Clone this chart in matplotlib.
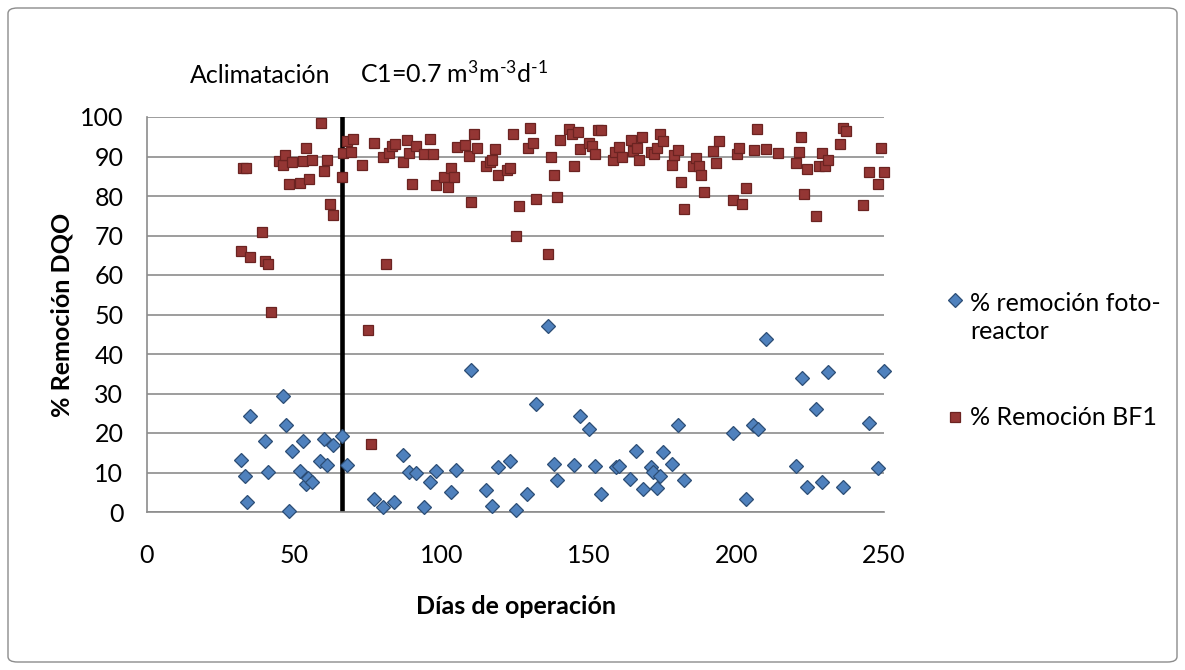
import matplotlib
matplotlib.use("Agg")
import matplotlib.pyplot as plt
from matplotlib.lines import Line2D
from matplotlib.patches import FancyBboxPatch

plt.rcParams['font.family'] = ['Lato', 'DejaVu Sans']
plt.rcParams['mathtext.fontset'] = 'custom'
plt.rcParams['mathtext.rm'] = 'Lato'
plt.rcParams['mathtext.it'] = 'Lato:italic'
plt.rcParams['mathtext.bf'] = 'Lato:bold'

# % remoción foto-reactor
dias_foto = [32.0, 33.1, 33.9, 35.0, 40.0, 41.0, 46.0, 47.0, 48.1, 49.1, 52.0, 52.9, 53.8,
             54.7, 56.1, 58.8, 59.9, 61.2, 63.0, 66.0, 67.8, 76.9, 79.9, 83.9, 87.0, 88.9,
             91.1, 94.1, 96.0, 97.9, 103.0, 104.9, 110.0, 114.9, 117.0, 119.0, 123.0, 125.1,
             129.0, 132.0, 136.0, 138.1, 139.0, 145.0, 147.0, 150.0, 152.1, 154.0, 159.1,
             160.2, 163.8, 166.0, 168.1, 170.9, 171.8, 173.0, 174.1, 175.0, 178.1, 180.0,
             182.1, 198.9, 203.1, 205.6, 207.1, 210.1, 220.0, 222.1, 224.0, 226.9, 229.0,
             231.0, 236.0, 245.0, 248.0, 250.0]
rem_foto = [13.2, 9.2, 2.5, 24.4, 18.1, 10.2, 29.4, 21.9, 0.3, 15.4, 10.4, 17.9, 7.1,
            8.5, 7.5, 12.9, 18.5, 11.9, 16.9, 19.2, 11.9, 3.4, 1.2, 2.5, 14.4, 10.1,
            10.0, 1.2, 7.6, 10.5, 5.0, 10.7, 35.9, 5.6, 1.5, 11.5, 12.9, 0.5,
            4.6, 27.3, 47.1, 12.1, 8.0, 11.8, 24.2, 20.9, 11.6, 4.5, 11.5,
            11.6, 8.3, 15.4, 5.8, 11.5, 10.1, 6.2, 9.1, 15.3, 12.2, 22.0,
            8.2, 20.1, 3.3, 22.0, 20.9, 43.9, 11.7, 34.0, 6.3, 26.0, 7.6,
            35.5, 6.3, 22.6, 11.1, 35.6]

# % Remoción BF1
dias_bf1 = [32.0, 32.7, 33.6, 35.0, 39.0, 40.0, 41.0, 42.0, 44.9, 46.0, 46.8, 48.1, 49.1,
            51.9, 52.8, 53.9, 55.1, 56.1, 59.0, 60.0, 61.1, 62.1, 63.1, 66.0, 66.6, 67.7,
            69.1, 70.0, 73.0, 75.1, 76.0, 77.1, 80.2, 81.1, 82.2, 83.0, 84.1, 87.0, 88.1,
            89.0, 90.0, 91.1, 94.0, 96.0, 97.1, 98.0, 100.9, 102.0, 103.1, 104.0, 105.1,
            108.0, 109.1, 110.0, 111.0, 112.0, 115.0, 116.3, 117.1, 118.0, 119.1, 122.0,
            123.1, 124.0, 125.1, 126.1, 129.1, 130.0, 131.0, 132.0, 136.0, 137.0, 138.1,
            139.1, 140.1, 143.0, 144.1, 145.0, 146.1, 147.0, 150.0, 151.1, 152.1, 153.1,
            154.0, 158.1, 158.9, 160.0, 161.0, 164.1, 165.0, 166.1, 167.0, 168.0, 171.0,
            172.1, 172.9, 174.0, 175.0, 178.1, 178.9, 180.0, 181.0, 182.1, 185.1, 186.1,
            187.1, 188.0, 189.0, 192.1, 193.1, 194.0, 198.9, 200.0, 200.9, 201.9, 203.1,
            206.0, 207.0, 210.0, 214.0, 220.2, 221.0, 222.0, 223.0, 224.0, 226.9, 227.8,
            229.0, 230.1, 231.0, 235.1, 236.0, 237.0, 243.0, 245.0, 248.1, 249.1, 250.0]
rem_bf1 = [66.2, 87.1, 87.1, 64.5, 71.0, 63.6, 62.9, 50.7, 88.9, 87.8, 90.5, 83.0, 88.6,
           83.2, 88.8, 92.1, 84.2, 89.1, 98.4, 86.3, 89.1, 78.0, 75.3, 84.7, 90.8, 94.0,
           91.1, 94.5, 87.8, 46.1, 17.2, 93.3, 90.0, 62.9, 90.8, 92.7, 93.2, 88.7, 94.3,
           90.8, 83.1, 92.6, 90.6, 94.5, 90.7, 82.8, 84.7, 82.4, 87.0, 84.9, 92.4,
           93.0, 90.1, 78.5, 95.7, 92.2, 87.6, 88.7, 89.0, 91.8, 85.4, 86.6,
           87.2, 95.6, 70.0, 77.5, 92.1, 97.2, 93.5, 79.2, 65.2, 89.9, 85.4,
           79.7, 94.3, 96.9, 95.7, 87.6, 96.2, 91.9, 93.5, 92.7, 90.6, 96.8,
           96.7, 89.1, 91.1, 92.4, 89.9, 94.1, 91.5, 92.2, 89.1, 95.0, 91.2,
           90.6, 92.2, 95.6, 93.8, 87.8, 90.4, 91.6, 83.5, 76.7, 87.6, 89.6,
           87.5, 85.2, 81.1, 91.5, 88.4, 93.8, 79.1, 90.6, 92.2, 77.9, 81.9,
           91.6, 96.9, 91.8, 90.8, 88.3, 91.1, 94.9, 80.6, 86.8, 74.9, 87.7,
           90.8, 87.7, 89.0, 93.1, 97.1, 96.5, 77.8, 86.0, 83.1, 92.2, 86.0]

fin_aclimatacion = 66
xticks = [0, 50, 100, 150, 200, 250]
yticks = list(range(0, 101, 10))

W, H = 1185, 670
fig = plt.figure(figsize=(W / 100, H / 100), dpi=100)
fig.patch.set_facecolor('white')

# plot area in pixels: left 147, right 884, top 117, bottom 512
ax = fig.add_axes([147 / W, 1 - 512 / H, (884 - 147) / W, (512 - 117) / H])

blue_face, blue_edge = '#4F81BD', '#2C4D75'
red_face, red_edge = '#943634', '#6B2321'

ax.plot(dias_foto, rem_foto, linestyle='none', marker='D', markersize=6.8,
        markerfacecolor=blue_face, markeredgecolor=blue_edge, markeredgewidth=0.9,
        clip_on=False, zorder=3)
ax.plot(dias_bf1, rem_bf1, linestyle='none', marker='s', markersize=7.8,
        markerfacecolor=red_face, markeredgecolor=red_edge, markeredgewidth=0.9,
        clip_on=False, zorder=4)

ax.axvline(fin_aclimatacion, color='black', lw=3.3, zorder=2)

ax.set_xlim(0, 250)
ax.set_ylim(0, 100)
ax.set_xticks(xticks)
ax.set_yticks(yticks)
ax.tick_params(axis='both', length=0, labelsize=18, colors='black')
ax.tick_params(axis='x', pad=23)
ax.tick_params(axis='y', pad=17)
ax.yaxis.grid(True, color='#8C8C8C', lw=1.2)
ax.set_axisbelow(True)
for s in ['top', 'right']:
    ax.spines[s].set_visible(False)
for s in ['left', 'bottom']:
    ax.spines[s].set_color('#8C8C8C')
    ax.spines[s].set_linewidth(1.2)

# titles
fig.text(62 / W, 1 - 315 / H, '% Remoción DQO', rotation=90, ha='center', va='center',
         fontsize=18, fontweight='bold')
fig.text(516 / W, 1 - 606 / H, 'Días de operación', ha='center', va='center',
         fontsize=18, fontweight='bold')

# annotations above the plot
fig.text(190 / W, 1 - 83 / H, 'Aclimatación', ha='left', va='baseline', fontsize=18)
fig.text(360 / W, 1 - 83 / H, r'C1=0.7 m$^{3}$m$^{\text{-}3}$d$^{\text{-}1}$',
         ha='left', va='baseline', fontsize=18)

# legend
fig.add_artist(Line2D([955 / W], [1 - 300 / H], marker='D', markersize=6.8,
                      markerfacecolor=blue_face, markeredgecolor=blue_edge,
                      markeredgewidth=0.9, linestyle='none', transform=fig.transFigure))
fig.text(970 / W, 1 - 311 / H, '% remoción foto-', ha='left', va='baseline', fontsize=18)
fig.text(970 / W, 1 - 339 / H, 'reactor', ha='left', va='baseline', fontsize=18)
fig.add_artist(Line2D([955 / W], [1 - 417 / H], marker='s', markersize=7.8,
                      markerfacecolor=red_face, markeredgecolor=red_edge,
                      markeredgewidth=0.9, linestyle='none', transform=fig.transFigure))
fig.text(970 / W, 1 - 425 / H, '% Remoción BF1', ha='left', va='baseline', fontsize=18)

# chart border
fig.add_artist(FancyBboxPatch((8 / W, 8 / H), (W - 16) / W, (H - 16) / H,
                              boxstyle='round,pad=0,rounding_size=0.008',
                              transform=fig.transFigure, fill=False,
                              ec='#8C8C8C', lw=1))

fig.savefig('out.png', dpi=100)
